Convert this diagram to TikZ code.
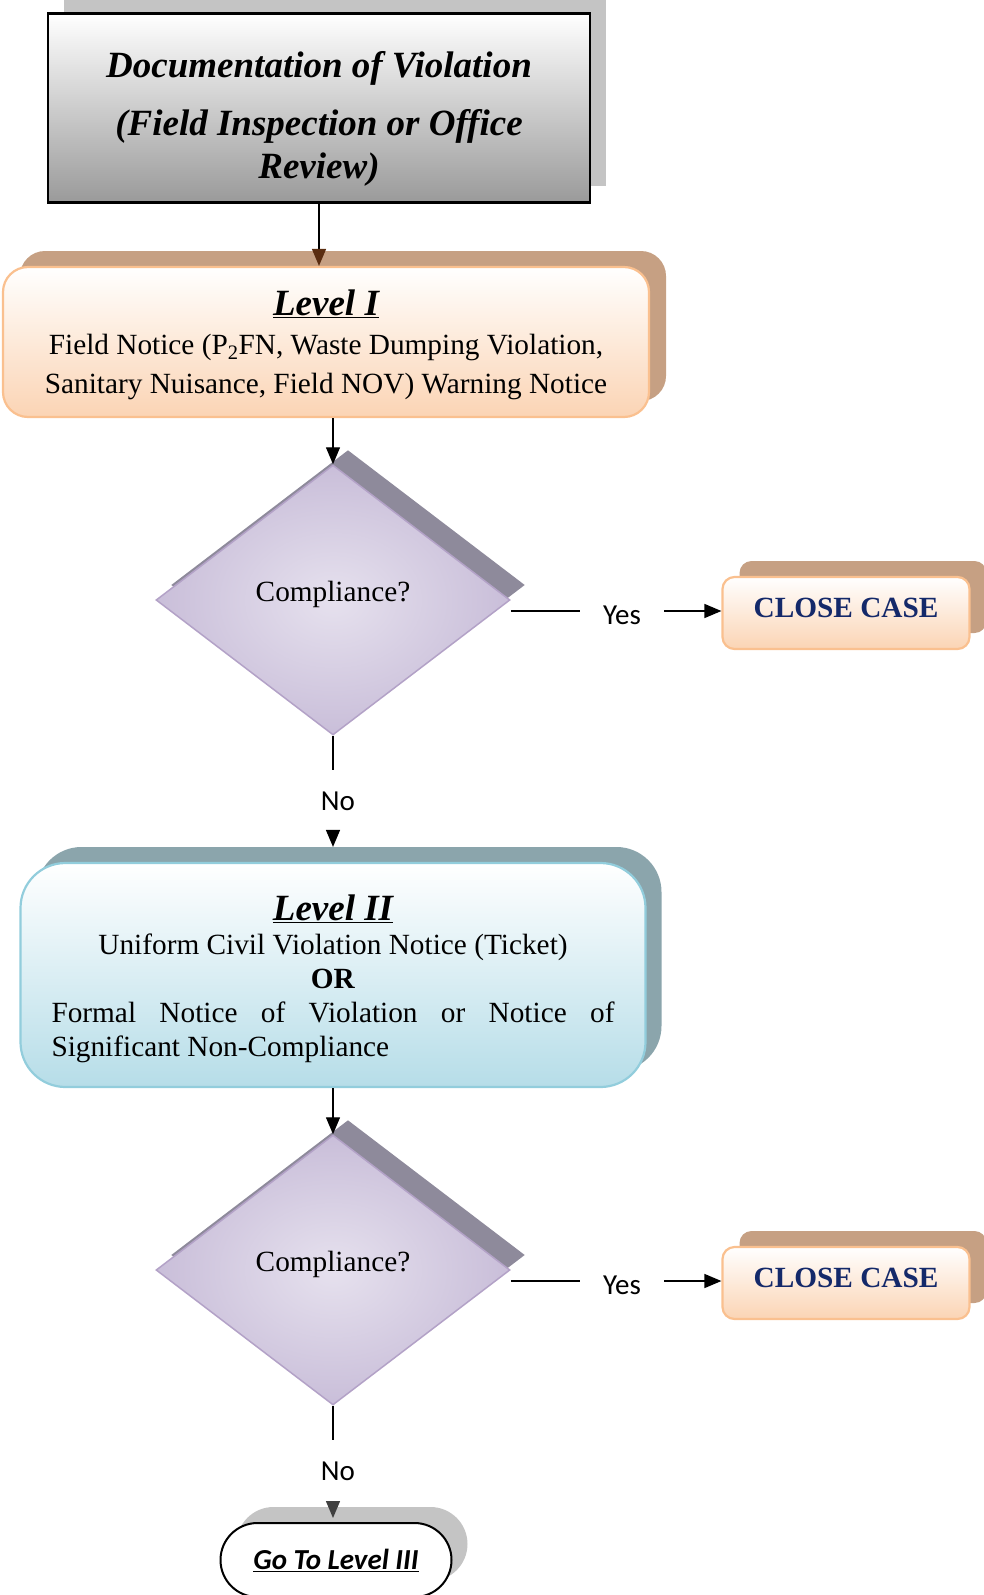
\documentclass[tikz,border=0pt]{standalone}
\usepackage{fontspec}
\setmainfont{Liberation Serif}
\newfontfamily\calibri{Carlito}
\usepackage{tikz}
\usetikzlibrary{shapes.geometric,shadows,arrows.meta,calc,positioning}
\definecolor{docgray}{HTML}{9A9A9A}
\definecolor{grayshadow}{HTML}{C4C4C4}
\definecolor{peachfill}{HTML}{FBD4B4}
\definecolor{peachline}{HTML}{FAC08F}
\definecolor{tanshadow}{HTML}{C6A083}
\definecolor{bluefill}{HTML}{B6DDE8}
\definecolor{blueline}{HTML}{92CDDC}
\definecolor{tealshadow}{HTML}{8BA5AC}
\definecolor{lilacin}{HTML}{E6E1EE}
\definecolor{lilacout}{HTML}{C9BED9}
\definecolor{lilacline}{HTML}{B3A2C7}
\definecolor{lilacshadow}{HTML}{8E8A9B}
\definecolor{navy}{HTML}{14296A}
\definecolor{darkbrown}{HTML}{5A2C10}

\begin{document}
\begin{tikzpicture}[x=1pt,y=-1pt,
        con/.style={line width=1.4pt},
        arr/.style={con,-{Triangle[length=17pt,width=14pt]}},
        lbl/.style={font=\calibri\fontsize{29}{34}\selectfont,inner xsep=23pt,inner ysep=21pt},
        yeslbl/.style={lbl,text height=26pt,text depth=0pt},
        docbox/.style={draw=black,line width=2.5pt,top color=white,bottom color=docgray,
            minimum width=542pt,minimum height=189pt,align=center,
            font=\fontsize{37}{43}\selectfont\bfseries\itshape,
            drop shadow={shadow xshift=16pt,shadow yshift=17pt,fill=grayshadow,opacity=1}},
        peachbox/.style={draw=peachline,line width=2.2pt,top color=white,bottom color=peachfill,
            align=center,font=\fontsize{29.3}{39}\selectfont,
            drop shadow={shadow xshift=17pt,shadow yshift=16pt,fill=tanshadow,opacity=1}},
        bluebox/.style={draw=blueline,line width=2.2pt,top color=white,bottom color=bluefill,
            align=center,font=\fontsize{29.3}{34}\selectfont,
            drop shadow={shadow xshift=16pt,shadow yshift=16pt,fill=tealshadow,opacity=1}},
        check/.style={diamond,draw=lilacline,line width=1.5pt,inner color=lilacin,outer color=lilacout,
            minimum width=354pt,minimum height=270pt,inner sep=0pt,font=\fontsize{29.3}{34}\selectfont,
            text height=20pt,text depth=18pt,
            drop shadow={shadow xshift=15pt,shadow yshift=15pt,fill=lilacshadow,opacity=1}},
        closebox/.style={peachbox,minimum width=247pt,minimum height=72pt,rounded corners=12pt,
            text=navy,font=\fontsize{29.3}{34}\selectfont\bfseries,text depth=10pt},
        endbox/.style={draw=black,line width=2pt,fill=white,minimum width=231pt,minimum height=74pt,
            rounded corners=37pt,font=\calibri\fontsize{29}{34}\selectfont\bfseries\itshape,
            drop shadow={shadow xshift=16pt,shadow yshift=16pt,fill=grayshadow,opacity=1}}]
                \useasboundingbox (0,0) rectangle (984,1595);
                \node[docbox] (doc) at (319,108) {\rule{0pt}{48pt}Documentation of Violation\\[15pt](Field Inspection or Office\\Review)};
                \node[peachbox,minimum width=646pt,minimum height=150pt,rounded corners=25pt] (lvlone) at (326,342)
                    {{\fontsize{37}{39}\selectfont\bfseries\itshape\rule{0pt}{32pt}\underline{Level I}}\\
                     Field Notice (P\textsubscript{2}FN, Waste Dumping Violation,\\
                     Sanitary Nuisance, Field NOV) Warning Notice};
                \node[check] (chkone) at (333,600) {Compliance?};
                \node[yeslbl] (yesone) at (622,611) {Yes};
                \node[closebox] (closeone) at (846,613) {CLOSE CASE};
                \node[lbl] (noone) at (338,801) {No};
                \node[bluebox,minimum width=625pt,minimum height=224pt,rounded corners=45pt] (lvltwo) at (333,975)
                    {{\fontsize{37}{38}\selectfont\bfseries\itshape\rule{0pt}{33pt}\underline{Level II}}\\
                     Uniform Civil Violation Notice (Ticket)\\
                     \textbf{OR}\\
                     \makebox[563pt][s]{Formal Notice of Violation or Notice of}\\
                     \makebox[563pt][l]{Significant Non-Compliance}};
                \node[check] (chktwo) at (333,1270) {Compliance?};
                \node[yeslbl] (yestwo) at (622,1281) {Yes};
                \node[closebox] (closetwo) at (846,1283) {CLOSE CASE};
                \node[lbl] (notwo) at (338,1471) {No};
                \node[endbox] (lvlthree) at (336,1560) {\underline{Go To Level III}};
                \draw[arr,-{Triangle[length=17pt,width=14pt,color=darkbrown]}] (doc.south) -- (doc.south |- lvlone.north);
                \draw[arr] (chkone.north |- lvlone.south) -- (chkone.north);
                \draw[con] (chkone.east |- yesone) -- (yesone);
                \draw[arr] (yesone) -- (yesone -| closeone.west);
                \draw[con] (chkone.south) -- (chkone.south |- noone.north);
                \draw[arr] (chkone.south |- noone.south) -- ($(lvltwo.north)+(0,-15)$);
                \draw[arr] (chktwo.north |- lvltwo.south) -- (chktwo.north);
                \draw[con] (chktwo.east |- yestwo) -- (yestwo);
                \draw[arr] (yestwo) -- (yestwo -| closetwo.west);
                \draw[con] (chktwo.south) -- (chktwo.south |- notwo.north);
                \draw[arr,-{Triangle[length=17pt,width=14pt,color=black!75]}] (chktwo.south |- notwo.south) -- ($(chktwo.south |- lvlthree.north)+(0,-4)$);
\end{tikzpicture}
\end{document}
